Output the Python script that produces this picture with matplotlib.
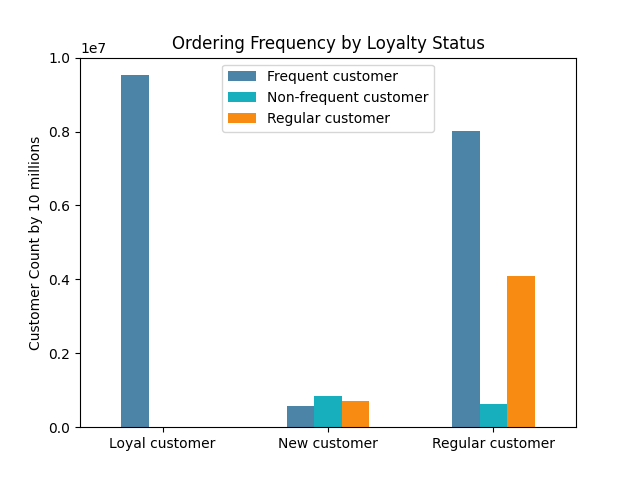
import matplotlib.pyplot as plt
import numpy as np

# --- Data ---
loyalty = ["Loyal customer", "New customer", "Regular customer"]
frequent = [9.53e6, 5.7e5, 8.02e6]
non_frequent = [0, 8.4e5, 6.25e5]
regular = [0, 7.1e5, 4.10e6]

series = {
    "Frequent customer": frequent,
    "Non-frequent customer": non_frequent,
    "Regular customer": regular,
}
colors = ["#4C84A8", "#17AEBE", "#F88B12"]

# --- Plot (mimic pandas grouped bar layout) ---
fig, ax = plt.subplots(figsize=(6.4, 4.8), dpi=100)
x = np.arange(len(loyalty))
width = 0.5 / len(series)
for i, ((name, vals), c) in enumerate(zip(series.items(), colors)):
    offset = (i - (len(series) - 1) / 2) * width
    ax.bar(x + offset, vals, width=width, color=c, label=name)

ax.set_xticks(x)
ax.set_xticklabels(loyalty, rotation=0)
ax.set_xlim(-0.5, len(loyalty) - 0.5)
ax.set_ylim(0, 1e7)
ax.set_ylabel("Customer Count by 10 millions")
ax.set_title("Ordering Frequency by Loyalty Status")
ax.legend(loc="upper center")

fig.savefig("out.png")
